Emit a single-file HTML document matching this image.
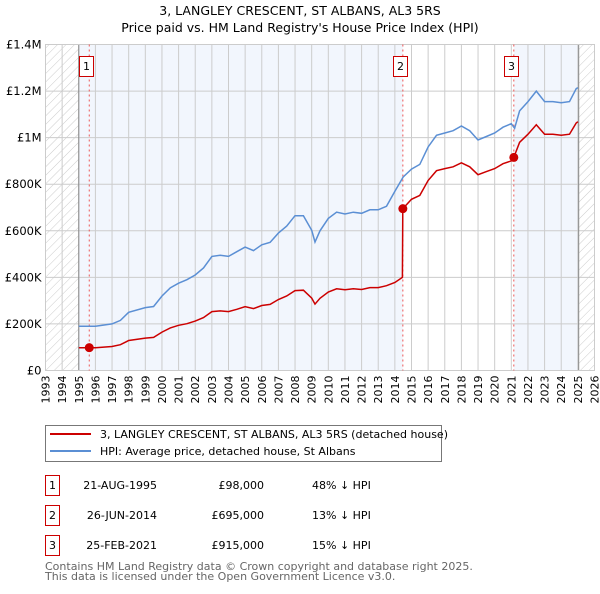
<!DOCTYPE html>
<html><head><meta charset="utf-8">
<style>
body{margin:0;background:#fff;font-family:"DejaVu Sans","Liberation Sans",sans-serif;}
svg text{font-family:"DejaVu Sans","Liberation Sans",sans-serif;}
</style></head>
<body>
<svg id="chart" width="600" height="590" xmlns="http://www.w3.org/2000/svg">
<defs>
<pattern id="hatch" width="6" height="6" patternUnits="userSpaceOnUse" patternTransform="rotate(45)">
<line x1="0" y1="0" x2="0" y2="6" stroke="#cccccc" stroke-width="1"/>
</pattern>
</defs>
<text x="300" y="15" text-anchor="middle" font-size="12.5" fill="#000">3, LANGLEY CRESCENT, ST ALBANS, AL3 5RS</text>
<text x="300" y="32" text-anchor="middle" font-size="12.5" fill="#000">Price paid vs. HM Land Registry's House Price Index (HPI)</text>
<g id="plot"></g>
<g>
<rect x="45.5" y="425.5" width="396" height="36" fill="#fff" stroke="#777"/>
<line x1="50" y1="434" x2="91" y2="434" stroke="#cc0000" stroke-width="2"/>
<text x="100" y="438" font-size="11">3, LANGLEY CRESCENT, ST ALBANS, AL3 5RS (detached house)</text>
<line x1="50" y1="451" x2="91" y2="451" stroke="#5b8fd4" stroke-width="2"/>
<text x="100" y="455" font-size="11">HPI: Average price, detached house, St Albans</text>
</g>
<g font-size="11">
<rect x="45.5" y="475.5" width="14" height="20" fill="#fff" stroke="#cc0000"/>
<text x="52.5" y="489" text-anchor="middle">1</text>
<text x="157" y="489" text-anchor="end">21-AUG-1995</text>
<text x="264" y="489" text-anchor="end">£98,000</text>
<text x="312" y="489">48% ↓ HPI</text>
<rect x="45.5" y="505.5" width="14" height="20" fill="#fff" stroke="#cc0000"/>
<text x="52.5" y="519" text-anchor="middle">2</text>
<text x="157" y="519" text-anchor="end">26-JUN-2014</text>
<text x="264" y="519" text-anchor="end">£695,000</text>
<text x="312" y="519">13% ↓ HPI</text>
<rect x="45.5" y="535.5" width="14" height="20" fill="#fff" stroke="#cc0000"/>
<text x="52.5" y="549" text-anchor="middle">3</text>
<text x="157" y="549" text-anchor="end">25-FEB-2021</text>
<text x="264" y="549" text-anchor="end">£915,000</text>
<text x="312" y="549">15% ↓ HPI</text>
</g>
<text x="45" y="570" font-size="11" fill="#666">Contains HM Land Registry data © Crown copyright and database right 2025.</text>
<text x="45" y="580" font-size="11" fill="#666">This data is licensed under the Open Government Licence v3.0.</text>
</svg>
<script>
const hpiYears=[1995.0,1996,1997,1997.5,1998,1999,1999.5,2000,2000.5,2001,2001.5,2002,2002.5,2003,2003.5,2004,2004.5,2005,2005.5,2006,2006.5,2007,2007.5,2008,2008.5,2009,2009.2,2009.5,2010,2010.5,2011,2011.5,2012,2012.5,2013,2013.5,2014,2014.5,2015,2015.5,2016,2016.5,2017,2017.5,2018,2018.5,2019,2019.5,2020,2020.5,2021,2021.2,2021.5,2022,2022.5,2023,2023.5,2024,2024.5,2024.9,2025];
const hpiValues=[190,190,200,215,250,270,275,320,355,375,390,410,440,490,495,490,510,530,515,540,550,590,620,665,665,602,552,600,653,680,672,680,675,690,690,705,770,831,865,885,960,1010,1020,1030,1050,1030,990,1005,1020,1045,1060,1040,1115,1155,1200,1155,1155,1150,1155,1210,1215];
const priceYears=[1995.0,1995.63,1996,1997,1997.5,1998,1999,1999.5,2000,2000.5,2001,2001.5,2002,2002.5,2003,2003.5,2004,2004.5,2005,2005.5,2006,2006.5,2007,2007.5,2008,2008.5,2009,2009.2,2009.5,2010,2010.5,2011,2011.5,2012,2012.5,2013,2013.5,2014,2014.45,2014.48,2015,2015.5,2016,2016.5,2017,2017.5,2018,2018.5,2019,2019.5,2020,2020.5,2021,2021.15,2021.5,2022,2022.5,2023,2023.5,2024,2024.5,2024.9,2025];
const priceValues=[98,98,98,103,111,129,139,142,165,183,194,201,212,227,253,256,253,263,274,266,279,284,305,320,343,345,311,285,310,337,351,347,351,348,356,356,364,378,400,695,735,752,816,858,867,875,892,875,841,854,867,888,900,915,980,1015,1055,1015,1015,1010,1015,1063,1068];
const saleYears=[1995.63,2014.48,2021.15];
const saleValues=[98,695,915];
const saleLabels=["1","2","3"];
const yTicks=[0,200,400,600,800,1000,1200,1400];
const yTickLabels=["£0","£200K","£400K","£600K","£800K","£1M","£1.2M","£1.4M"];
const xStart=1993,xEnd=2026;

const L=45.5,R=594.5,T=44.5,B=370.5;
const NS="http://www.w3.org/2000/svg";
const X=y=>L+(y-xStart)/(xEnd-xStart)*(R-L);
const Y=v=>B-v/1400*(B-T);
const g=document.getElementById('plot');
function mk(tag,attrs,parent){const e=document.createElementNS(NS,tag);for(const k in attrs)e.setAttribute(k,attrs[k]);(parent||g).appendChild(e);return e;}

let e;
e=mk('rect',{x:L,y:T,width:R-L,height:B-T,fill:'#fff'});


e=mk('rect',{x:X(1995),y:T,width:X(saleYears[1])-X(1995),height:B-T,fill:'#eef3fc',opacity:0.75});


e=mk('rect',{x:X(saleYears[2]),y:T,width:X(2025.05)-X(saleYears[2]),height:B-T,fill:'#eef3fc',opacity:0.75});


e=mk('rect',{x:L,y:T,width:X(1995)-L,height:B-T,fill:'url(#hatch)'});


e=mk('rect',{x:X(2025.05),y:T,width:R-X(2025.05),height:B-T,fill:'url(#hatch)'});



for(let yr=xStart;yr<=xEnd;yr++){
  e=mk('line',{x1:X(yr),x2:X(yr),y1:T,y2:B,stroke:'#cccccc','stroke-width':1});
  
  
  const t=mk('text',{x:0,y:0,'font-size':11,'text-anchor':'end',transform:`translate(${X(yr)+4},${B+5}) rotate(-90)`});
  t.textContent=yr;
  
  
}
yTicks.forEach((v,i)=>{
  e=mk('line',{x1:L,x2:R,y1:Y(v),y2:Y(v),stroke:'#cccccc','stroke-width':1});
  
  
  const t=mk('text',{x:L-4,y:Y(v)+4,'font-size':11.5,'text-anchor':'end'});
  t.textContent=yTickLabels[i];
  
  
});
e=mk('line',{x1:X(1995),x2:X(1995),y1:T,y2:B,stroke:'#888','stroke-width':1});


e=mk('line',{x1:X(2025.05),x2:X(2025.05),y1:T,y2:B,stroke:'#888','stroke-width':1});


e=mk('rect',{x:L,y:T,width:R-L,height:B-T,fill:'none',stroke:'#cccccc'});



saleYears.forEach((yr,i)=>{
  e=mk('line',{x1:X(yr),x2:X(yr),y1:T,y2:B,stroke:'#ee5555','stroke-width':1,'stroke-dasharray':'2,3'});
  
  
});

const hp=hpiYears.map((yr,i)=>X(yr).toFixed(1)+','+Y(hpiValues[i]).toFixed(1)).join(' ');
e=mk('polyline',{points:hp,fill:'none',stroke:'#5b8fd4','stroke-width':1.5});


const pp=priceYears.map((yr,i)=>X(yr).toFixed(1)+','+Y(priceValues[i]).toFixed(1)).join(' ');
e=mk('polyline',{points:pp,fill:'none',stroke:'#cc0000','stroke-width':1.5});



saleYears.forEach((yr,i)=>{
  e=mk('circle',{cx:X(yr),cy:Y(saleValues[i]),r:4.5,fill:'#cc0000'});
  
  
  const bx=Math.round(X(yr)-10);
  e=mk('rect',{x:bx+0.5,y:56.5,width:14,height:20,fill:'#fff',stroke:'#cc0000'});
  
  
  const t=mk('text',{x:bx+7.5,y:70,'font-size':11,'text-anchor':'middle'});
  t.textContent=saleLabels[i];
  
  
});
</script>
</body></html>
